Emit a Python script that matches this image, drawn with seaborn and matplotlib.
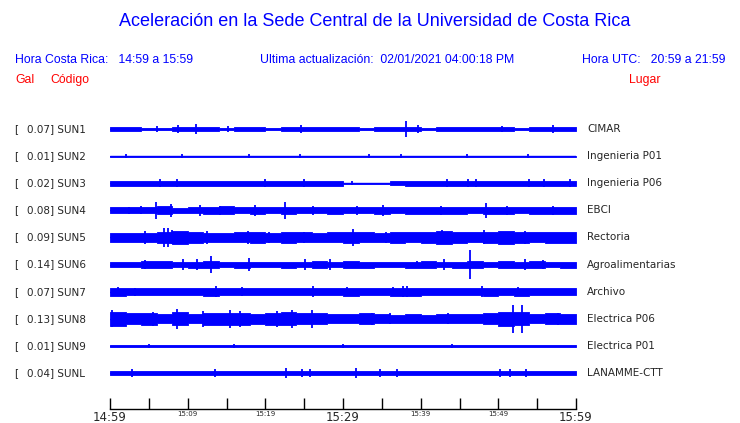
import numpy as np
import matplotlib
matplotlib.use("Agg")
import matplotlib.pyplot as plt
import seaborn as sns

# ---- data ----
codes = ["SUN1", "SUN2", "SUN3", "SUN4", "SUN5", "SUN6", "SUN7", "SUN8", "SUN9", "SUNL"]
gals = ["0.07", "0.01", "0.02", "0.08", "0.09", "0.14", "0.07", "0.13", "0.01", "0.04"]
places = ["CIMAR", "Ingenieria P01", "Ingenieria P06", "EBCI", "Rectoria",
          "Agroalimentarias", "Archivo", "Electrica P06", "Electrica P01", "LANAMME-CTT"]

# envelope half-amplitude per 2-minute bin (normalised, 1 = half the trace spacing)
env_sun1 = [0.09, 0.09, 0.08, 0.06, 0.09, 0.10, 0.09, 0.08, 0.09, 0.09, 0.08, 0.09, 0.09, 0.10, 0.09,
            0.09, 0.08, 0.09, 0.10, 0.09, 0.08, 0.09, 0.09, 0.10, 0.09, 0.09, 0.08, 0.09, 0.09, 0.09]
env_sun2 = [0.03] * 30
env_sun3 = [0.15] * 15 + [0.03, 0.03, 0.03, 0.10] + [0.15] * 11
env_sun4 = [0.18, 0.18, 0.17, 0.22, 0.15, 0.18, 0.20, 0.22, 0.18, 0.20, 0.17, 0.20, 0.18, 0.17, 0.20,
            0.18, 0.17, 0.20, 0.18, 0.20, 0.19, 0.20, 0.20, 0.18, 0.21, 0.20, 0.18, 0.20, 0.20, 0.20]
env_sun5 = [0.27, 0.25, 0.27, 0.30, 0.35, 0.30, 0.27, 0.27, 0.28, 0.30, 0.27, 0.30, 0.28, 0.27, 0.28,
            0.33, 0.28, 0.27, 0.30, 0.28, 0.30, 0.35, 0.30, 0.28, 0.30, 0.35, 0.30, 0.28, 0.30, 0.30]
env_sun6 = [0.14, 0.14, 0.18, 0.20, 0.16, 0.17, 0.20, 0.16, 0.17, 0.16, 0.15, 0.17, 0.15, 0.18, 0.16,
            0.18, 0.17, 0.16, 0.15, 0.17, 0.20, 0.15, 0.17, 0.18, 0.15, 0.20, 0.17, 0.18, 0.16, 0.17]
env_sun7 = [0.22, 0.20, 0.18, 0.19, 0.18, 0.19, 0.22, 0.20, 0.19, 0.20, 0.19, 0.18, 0.19, 0.21, 0.20,
            0.22, 0.19, 0.21, 0.23, 0.22, 0.20, 0.19, 0.20, 0.21, 0.22, 0.20, 0.22, 0.21, 0.20, 0.20]
env_sun8 = [0.40, 0.30, 0.33, 0.25, 0.38, 0.26, 0.33, 0.35, 0.35, 0.28, 0.33, 0.36, 0.30, 0.30, 0.25,
            0.25, 0.30, 0.27, 0.24, 0.25, 0.24, 0.26, 0.25, 0.26, 0.30, 0.40, 0.38, 0.27, 0.30, 0.28]
env_sun9 = [0.07, 0.06, 0.07, 0.04, 0.07, 0.07, 0.05, 0.07, 0.06, 0.07, 0.04, 0.07, 0.07, 0.07, 0.05,
            0.04, 0.07, 0.05, 0.07, 0.05, 0.07, 0.07, 0.07, 0.07, 0.05, 0.04, 0.07, 0.07, 0.05, 0.07]
env_sunl = [0.11] * 30

# spikes: (minute after 14:59, half-amplitude)
spk_sun1 = [(6.0, 0.15), (8.8, 0.22), (11.1, 0.28), (15.2, 0.15), (24.6, 0.22), (38.1, 0.45),
            (39.7, 0.22), (50.5, 0.15), (57.0, 0.20)]
spk_sun2 = [(2.1, 0.10), (9.3, 0.10), (17.9, 0.10), (24.5, 0.10), (33.4, 0.10), (37.5, 0.10),
            (46.0, 0.10), (53.8, 0.12)]
spk_sun3 = [(6.4, 0.22), (8.6, 0.22), (19.9, 0.22), (25.0, 0.22), (31.2, 0.10), (43.4, 0.22),
            (46.1, 0.22), (47.1, 0.22), (53.9, 0.22), (55.9, 0.22), (59.2, 0.22)]
spk_sun4 = [(2.5, 0.20), (4.0, 0.22), (5.9, 0.50), (7.9, 0.37), (11.6, 0.30), (14.2, 0.25),
            (18.7, 0.30), (22.5, 0.48), (26.2, 0.25), (31.8, 0.25), (35.2, 0.30), (42.6, 0.25),
            (48.4, 0.42), (51.1, 0.25), (57.0, 0.25)]
spk_sun5 = [(4.5, 0.35), (6.9, 0.55), (7.5, 0.55), (8.0, 0.40), (12.5, 0.35), (17.8, 0.35),
            (20.5, 0.30), (25.0, 0.32), (31.3, 0.50), (35.6, 0.32), (42.8, 0.40), (48.2, 0.40),
            (53.4, 0.35)]
spk_sun6 = [(4.5, 0.25), (9.4, 0.30), (11.2, 0.30), (13.0, 0.48), (17.9, 0.38), (25.1, 0.30),
            (28.3, 0.30), (39.5, 0.20), (43.0, 0.30), (46.4, 0.82), (53.4, 0.30), (55.8, 0.25)]
spk_sun7 = [(1.0, 0.25), (3.2, 0.22), (13.7, 0.30), (17.0, 0.25), (26.2, 0.30), (30.5, 0.27),
            (36.5, 0.25), (37.7, 0.33), (38.3, 0.30), (47.9, 0.32), (52.5, 0.27)]
spk_sun8 = [(0.3, 0.48), (5.6, 0.40), (8.6, 0.58), (12.0, 0.45), (15.5, 0.50), (16.7, 0.45),
            (21.5, 0.45), (23.4, 0.50), (26.0, 0.52), (33.7, 0.35), (36.0, 0.30), (43.5, 0.30),
            (51.9, 0.80), (53.0, 0.80), (57.7, 0.35)]
spk_sun9 = [(5.0, 0.10), (16.0, 0.10), (30.0, 0.10), (44.0, 0.10)]
spk_sunl = [(2.8, 0.22), (13.5, 0.22), (22.7, 0.28), (24.7, 0.22), (25.8, 0.22), (31.7, 0.28),
            (34.8, 0.22), (36.9, 0.22), (50.2, 0.22), (51.5, 0.22), (53.6, 0.22)]

envs = [env_sun1, env_sun2, env_sun3, env_sun4, env_sun5, env_sun6, env_sun7, env_sun8, env_sun9, env_sunl]
spikes = [spk_sun1, spk_sun2, spk_sun3, spk_sun4, spk_sun5, spk_sun6, spk_sun7, spk_sun8, spk_sun9, spk_sunl]

tick_minutes = list(range(0, 61, 5))
tick_labels = ["14:59", "", "15:09", "", "15:19", "", "15:29", "", "15:39", "", "15:49", "", "15:59"]

title = "Aceleración en la Sede Central de la Universidad de Costa Rica"
hora_cr = "Hora Costa Rica:   14:59 a 15:59"
ultima = "Ultima actualización:  02/01/2021 04:00:18 PM"
hora_utc = "Hora UTC:   20:59 a 21:59"

# ---- figure ----
sns.set_style("white")
W, H = 740, 423
fig = plt.figure(figsize=(W / 100, H / 100), dpi=100)
ax = fig.add_axes([110 / W, 1 - 409 / H, 466 / W, (409 - 115) / H])

blue = "#0000ff"
half = 0.65  # drawing scale of one amplitude unit, in trace spacings
edges = np.arange(0, 61, 2)
for i, (env, spk) in enumerate(zip(envs, spikes)):
    y0 = -i
    e = np.array(env + [env[-1]]) * half
    ax.fill_between(edges, y0 - e, y0 + e, step="post", color=blue, lw=0.6, edgecolor=blue)
    ax.plot([0, 60], [y0, y0], color=blue, lw=1.0)
    t, a = zip(*spk)
    a = np.array(a) * half
    ax.vlines(t, y0 - a, y0 + a, color=blue, lw=1.3)

ax.set_xlim(0, 60)
ax.set_ylim(-10.33, 0.517)
sns.despine(ax=ax, left=True, top=True, right=True)
ax.spines["bottom"].set_color("black")
ax.spines["bottom"].set_linewidth(1.0)
ax.set_yticks([])
ax.set_xticks(tick_minutes)
ax.set_xticklabels(tick_labels)
ax.tick_params(axis="x", bottom=True, direction="in", length=8, width=1.0, color="black",
               pad=1.5, labelsize=5)
for lab, m in zip(ax.get_xticklabels(), tick_minutes):
    if m in (0, 30, 60):
        lab.set_fontsize(8.5)

def px(x, y):
    return x / W, 1 - y / H

# trace labels
for i in range(len(codes)):
    yp = 129 + 27.1 * i
    fig.text(*px(14, yp), "[", fontsize=7.5, va="center", ha="left", family="DejaVu Sans")
    fig.text(*px(27, yp), f"{gals[i]}] {codes[i]}", fontsize=7.5, va="center", ha="left",
             family="DejaVu Sans")
    fig.text(*px(587, yp), places[i], fontsize=7.5, va="center", ha="left", family="DejaVu Sans")

fig.text(*px(375, 22), title, fontsize=13, color=blue, ha="center", va="center",
         family="Liberation Sans")
fig.text(*px(15, 60), hora_cr, fontsize=8.8, color=blue, ha="left", va="center",
         family="Liberation Sans")
fig.text(*px(260, 60), ultima, fontsize=8.8, color=blue, ha="left", va="center",
         family="Liberation Sans")
fig.text(*px(725, 60), hora_utc, fontsize=8.8, color=blue, ha="right", va="center",
         family="Liberation Sans")
fig.text(*px(15, 80), "Gal", fontsize=8.8, color="red", ha="left", va="center",
         family="Liberation Sans")
fig.text(*px(50, 80), "Código", fontsize=8.8, color="red", ha="left", va="center",
         family="Liberation Sans")
fig.text(*px(645, 80), "Lugar", fontsize=8.8, color="red", ha="center", va="center",
         family="Liberation Sans")

fig.savefig("out.png", dpi=100, facecolor="white")
